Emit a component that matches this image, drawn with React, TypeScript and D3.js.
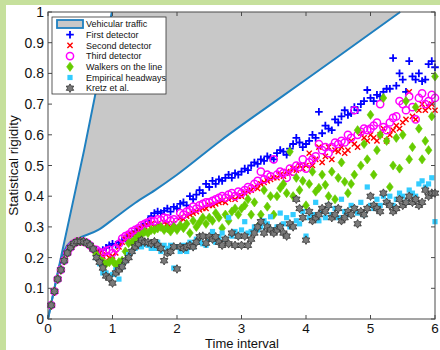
import * as d3 from 'd3'

// time grid (x), 0.05 .. 6.00
const times = d3.range(1, 121).map(i => +(i * 0.05).toFixed(2))

// shared start of every series (t = 0.05 .. 0.70)
const start = [0.045, 0.09, 0.13, 0.16, 0.19, 0.215, 0.233, 0.246, 0.252, 0.253, 0.252, 0.248, 0.24, 0.228]

const firstDetector = [...start,
  0.225, 0.22, 0.225, 0.232, 0.24, 0.245,
  0.242, 0.25, 0.255, 0.262, 0.27, 0.278, 0.285, 0.29, 0.30, 0.31,
  0.32, 0.335, 0.345, 0.35, 0.345, 0.352, 0.36, 0.35, 0.365, 0.36,
  0.375, 0.38, 0.37, 0.40, 0.39, 0.405, 0.42, 0.41, 0.44, 0.43,
  0.45, 0.44, 0.455, 0.45, 0.46, 0.47, 0.46, 0.475, 0.47, 0.48,
  0.49, 0.485, 0.50, 0.51, 0.505, 0.52, 0.515, 0.53, 0.525, 0.52,
  0.54, 0.55, 0.545, 0.535, 0.555, 0.57, 0.59, 0.575, 0.56, 0.57,
  0.58, 0.60, 0.59, 0.675, 0.605, 0.63, 0.62, 0.615, 0.65, 0.64,
  0.66, 0.68, 0.665, 0.67, 0.69, 0.68, 0.70, 0.71, 0.746, 0.72,
  0.71, 0.73, 0.725, 0.74, 0.75, 0.75, 0.85, 0.76, 0.80, 0.78,
  0.74, 0.84, 0.79, 0.78, 0.80, 0.775, 0.78, 0.83, 0.84, 0.82]

const secondDetector = [...start,
  0.22, 0.215, 0.205, 0.21, 0.20, 0.205,
  0.215, 0.235, 0.25, 0.26, 0.27, 0.275, 0.28, 0.29, 0.295, 0.30,
  0.305, 0.31, 0.30, 0.31, 0.305, 0.315, 0.31, 0.30, 0.31, 0.30,
  0.33, 0.325, 0.335, 0.34, 0.345, 0.35, 0.355, 0.36, 0.36, 0.37,
  0.37, 0.375, 0.38, 0.385, 0.38, 0.39, 0.395, 0.39, 0.40, 0.40,
  0.41, 0.415, 0.42, 0.43, 0.425, 0.44, 0.445, 0.45, 0.455, 0.46,
  0.46, 0.47, 0.465, 0.48, 0.475, 0.49, 0.485, 0.50, 0.49, 0.50,
  0.54, 0.50, 0.52, 0.56, 0.51, 0.53, 0.56, 0.52, 0.55, 0.545,
  0.56, 0.54, 0.55, 0.58, 0.57, 0.56, 0.605, 0.59, 0.58, 0.60,
  0.59, 0.58, 0.60, 0.62, 0.58, 0.60, 0.615, 0.63, 0.62, 0.64,
  0.65, 0.74, 0.66, 0.65, 0.68, 0.70, 0.68, 0.69, 0.70, 0.68]

const thirdDetector = [...start,
  0.225, 0.218, 0.215, 0.222, 0.225, 0.215,
  0.23, 0.245, 0.262, 0.27, 0.275, 0.285, 0.29, 0.295, 0.305, 0.31,
  0.315, 0.32, 0.318, 0.325, 0.322, 0.33, 0.328, 0.32, 0.325, 0.317,
  0.345, 0.34, 0.35, 0.355, 0.366, 0.36, 0.37, 0.375, 0.38, 0.38,
  0.385, 0.39, 0.395, 0.40, 0.395, 0.405, 0.41, 0.40, 0.415, 0.41,
  0.42, 0.43, 0.425, 0.44, 0.45, 0.48, 0.455, 0.47, 0.465, 0.52,
  0.47, 0.48, 0.475, 0.46, 0.49, 0.48, 0.50, 0.495, 0.52, 0.49,
  0.51, 0.52, 0.53, 0.57, 0.55, 0.56, 0.54, 0.56, 0.575, 0.57,
  0.58, 0.575, 0.60, 0.59, 0.68, 0.60, 0.61, 0.62, 0.615, 0.62,
  0.63, 0.64, 0.70, 0.625, 0.615, 0.64, 0.655, 0.66, 0.71, 0.70,
  0.68, 0.725, 0.69, 0.65, 0.72, 0.735, 0.70, 0.71, 0.73, 0.72]

const walkers = [...start,
  0.21, 0.195, 0.187, 0.18, 0.185, 0.19,
  0.176, 0.185, 0.19, 0.22, 0.247, 0.25, 0.26, 0.27, 0.275, 0.284,
  0.28, 0.29, 0.29, 0.295, 0.30, 0.29, 0.296, 0.285, 0.30, 0.29,
  0.305, 0.296, 0.31, 0.28, 0.32, 0.30, 0.315, 0.33, 0.31, 0.33,
  0.32, 0.345, 0.33, 0.296, 0.34, 0.32, 0.35, 0.36, 0.34, 0.36,
  0.37, 0.39, 0.34, 0.38, 0.30, 0.34, 0.42, 0.366, 0.40, 0.34,
  0.40, 0.426, 0.44, 0.41, 0.545, 0.40, 0.46, 0.42, 0.45, 0.37,
  0.44, 0.48, 0.415, 0.427, 0.47, 0.437, 0.40, 0.48, 0.39, 0.46,
  0.51, 0.447, 0.41, 0.44, 0.47, 0.615, 0.50, 0.57, 0.52, 0.665,
  0.47, 0.55, 0.60, 0.72, 0.58, 0.43, 0.50, 0.59, 0.49, 0.60,
  0.71, 0.52, 0.56, 0.69, 0.62, 0.52, 0.58, 0.55, 0.66, 0.79]

const headways = [...start,
  0.20, 0.18, 0.15, 0.15, 0.14, 0.145,
  0.16, 0.13, 0.17, 0.19, 0.21, 0.22, 0.23, 0.24, 0.235, 0.245,
  0.24, 0.23, 0.23, 0.25, 0.22, 0.24, 0.23, 0.24, 0.166, 0.235,
  0.22, 0.24, 0.22, 0.25, 0.235, 0.26, 0.25, 0.245, 0.24, 0.26,
  0.285, 0.25, 0.265, 0.28, 0.26, 0.33, 0.27, 0.285, 0.27, 0.29,
  0.317, 0.28, 0.285, 0.30, 0.29, 0.30, 0.32, 0.31, 0.333, 0.29,
  0.30, 0.345, 0.31, 0.33, 0.30, 0.34, 0.32, 0.31, 0.35, 0.27,
  0.33, 0.34, 0.38, 0.32, 0.35, 0.33, 0.37, 0.34, 0.36, 0.33,
  0.39, 0.35, 0.34, 0.37, 0.36, 0.345, 0.38, 0.34, 0.43, 0.37,
  0.36, 0.39, 0.37, 0.40, 0.38, 0.40, 0.37, 0.39, 0.41, 0.40,
  0.38, 0.42, 0.41, 0.40, 0.44, 0.45, 0.43, 0.44, 0.46, 0.317]

const kretz = [...start,
  0.20, 0.185, 0.166, 0.14, 0.133, 0.117,
  0.15, 0.16, 0.17, 0.19, 0.20, 0.22, 0.235, 0.245, 0.257, 0.25,
  0.25, 0.245, 0.252, 0.24, 0.23, 0.19, 0.215, 0.22, 0.235, 0.163,
  0.235, 0.23, 0.235, 0.24, 0.235, 0.25, 0.268, 0.27, 0.247, 0.268,
  0.26, 0.268, 0.25, 0.24, 0.26, 0.245, 0.28, 0.24, 0.27, 0.24,
  0.27, 0.24, 0.26, 0.28, 0.30, 0.317, 0.28, 0.30, 0.29, 0.28,
  0.29, 0.30, 0.28, 0.27, 0.31, 0.30, 0.39, 0.36, 0.33, 0.257,
  0.35, 0.32, 0.33, 0.34, 0.36, 0.35, 0.37, 0.33, 0.34, 0.36,
  0.32, 0.33, 0.35, 0.34, 0.36, 0.31, 0.35, 0.34, 0.36, 0.40,
  0.37, 0.36, 0.35, 0.41, 0.38, 0.37, 0.35, 0.36, 0.39, 0.37,
  0.38, 0.40, 0.38, 0.39, 0.37, 0.38, 0.42, 0.40, 0.41, 0.41]

// vehicular traffic band: upper and lower bounds
const upperT = [0, 0.1, 0.2, 0.56, 0.99]
const upperY = [0, 0.1, 0.2, 0.55, 1.0]
const lowerT = [0, 0.1, 0.2, 0.3, 0.47, 0.78, 1.04, 1.35, 1.66, 2.0, 2.67, 3.55, 4.5, 5.46]
const lowerY = [0, 0.1, 0.19, 0.24, 0.262, 0.29, 0.33, 0.378, 0.42, 0.47, 0.58, 0.713, 0.855, 1.0]

const xTicks = [0, 1, 2, 3, 4, 5, 6]
const yTicks = [0, 0.1, 0.2, 0.3, 0.4, 0.5, 0.6, 0.7, 0.8, 0.9, 1]

const legendLabels = ['Vehicular traffic', 'First detector', 'Second detector', 'Third detector',
  'Walkers on the line', 'Empirical headways', 'Kretz et al.']

const FONT = '"Liberation Sans", Arial, sans-serif'
const BAND_BLUE = '#1f80c0'

const hexagram = (r: number) => {
  const pts: string[] = []
  for (let k = 0; k < 12; k++) {
    const a = -Math.PI / 2 + k * Math.PI / 6
    const rr = k % 2 === 0 ? r : r * 0.58
    pts.push(`${(rr * Math.cos(a)).toFixed(2)},${(rr * Math.sin(a)).toFixed(2)}`)
  }
  return 'M' + pts.join('L') + 'Z'
}

function Marker({ kind, x, y }: { kind: string; x: number; y: number }) {
  const t = `translate(${x},${y})`
  switch (kind) {
    case 'plus':
      return <path transform={t} d="M-3.8,0H3.8M0,-3.8V3.8" stroke="#0000ff" strokeWidth={1.8} fill="none" />
    case 'x':
      return <path transform={t} d="M-2.6,-2.6L2.6,2.6M-2.6,2.6L2.6,-2.6" stroke="#ff0000" strokeWidth={1.4} fill="none" />
    case 'circle':
      return <circle cx={x} cy={y} r={3.6} stroke="#ff00ff" strokeWidth={1.5} fill="none" />
    case 'diamond':
      return <path transform={t} d="M0,-4.6L3.4,0L0,4.6L-3.4,0Z" fill="#66cc00" stroke="#66cc00" strokeWidth={0.6} />
    case 'square':
      return <rect x={x - 2.6} y={y - 2.6} width={5.2} height={5.2} fill="#33ccff" />
    default:
      return <path transform={t} d={hexagram(4.3)} fill="#7a7a7a" stroke="#333" strokeWidth={0.8} />
  }
}

export default function App() {
  const x = d3.scaleLinear().domain([0, 6]).range([48, 435])
  const y = d3.scaleLinear().domain([0, 1]).range([319, 12])

  const series = [
    { kind: 'plus', values: firstDetector },
    { kind: 'x', values: secondDetector },
    { kind: 'circle', values: thirdDetector },
    { kind: 'diamond', values: walkers },
    { kind: 'square', values: headways },
    { kind: 'star', values: kretz },
  ]

  const upper = upperT.map((t, i) => [t, upperY[i]] as [number, number])
  const lower = lowerT.map((t, i) => [t, lowerY[i]] as [number, number])

  const line = d3.line<[number, number]>().x(d => x(d[0])).y(d => y(d[1])).curve(d3.curveMonotoneX)
  const areaTop = d3.area<[number, number]>().x(d => x(d[0])).y0(d => y(d[1])).y1(y(1)).curve(d3.curveMonotoneX)

  const [x0, x1] = x.range()
  const [yb, yt] = y.range()

  const lx = 52, ly = 17, rowH = 10.7
  const legendKinds = ['band', 'plus', 'x', 'circle', 'diamond', 'square', 'star']

  return (
    <svg width={440} height={350} style={{ position: 'absolute', left: 0, top: 0 }} fontFamily={FONT}>
      <rect width={440} height={350} fill="#c6e09c" />
      <rect x={6} y={5} width={434} height={345} fill="#fff" />

      {/* vehicular traffic band */}
      <path d={areaTop(lower) ?? ''} fill="#c8c8c8" />
      <path d={areaTop(upper) ?? ''} fill="#fff" />
      <path d={line(upper) ?? ''} fill="none" stroke={BAND_BLUE} strokeWidth={2} />
      <path d={line(lower) ?? ''} fill="none" stroke={BAND_BLUE} strokeWidth={2} />

      {/* data */}
      {series.map(s => (
        <g key={s.kind}>
          {s.values.map((v, i) => <Marker key={i} kind={s.kind} x={x(times[i])} y={y(v)} />)}
        </g>
      ))}

      {/* axes box and ticks */}
      <rect x={x0} y={yt} width={x1 - x0} height={yb - yt} fill="none" stroke="#4a4a4a" strokeWidth={1} />
      {xTicks.map(t => (
        <g key={'x' + t}>
          <line x1={x(t)} x2={x(t)} y1={yb} y2={yb - 4} stroke="#4a4a4a" />
          <line x1={x(t)} x2={x(t)} y1={yt} y2={yt + 4} stroke="#4a4a4a" />
          <text x={x(t)} y={333} textAnchor="middle" fontSize={13.5} fill="#111">{t}</text>
        </g>
      ))}
      {yTicks.map(t => (
        <g key={'y' + t}>
          <line x1={x0} x2={x0 + 4} y1={y(t)} y2={y(t)} stroke="#4a4a4a" />
          <line x1={x1} x2={x1 - 4} y1={y(t)} y2={y(t)} stroke="#4a4a4a" />
          <text x={44} y={y(t)} dy="0.36em" textAnchor="end" fontSize={14} fill="#111">{t}</text>
        </g>
      ))}
      <text x={242} y={348} textAnchor="middle" fontSize={13} fill="#111">Time interval</text>
      <text transform={`translate(18,${(yb + yt) / 2}) rotate(-90)`} textAnchor="middle" fontSize={13.5} fill="#111">Statistical rigidity</text>

      {/* legend */}
      <rect x={lx} y={ly} width={114} height={77} fill="#fff" stroke="#333" strokeWidth={0.8} />
      {legendLabels.map((label, i) => {
        const cy = ly + 7 + i * rowH
        const kind = legendKinds[i]
        return (
          <g key={label}>
            {kind === 'band'
              ? <rect x={lx + 5} y={cy - 4} width={26} height={8} fill="#c8c8c8" stroke={BAND_BLUE} strokeWidth={1.8} />
              : <Marker kind={kind} x={lx + 18} y={cy} />}
            <text x={lx + 34} y={cy} dy="0.35em" fontSize={9} fill="#111">{label}</text>
          </g>
        )
      })}
    </svg>
  )
}
